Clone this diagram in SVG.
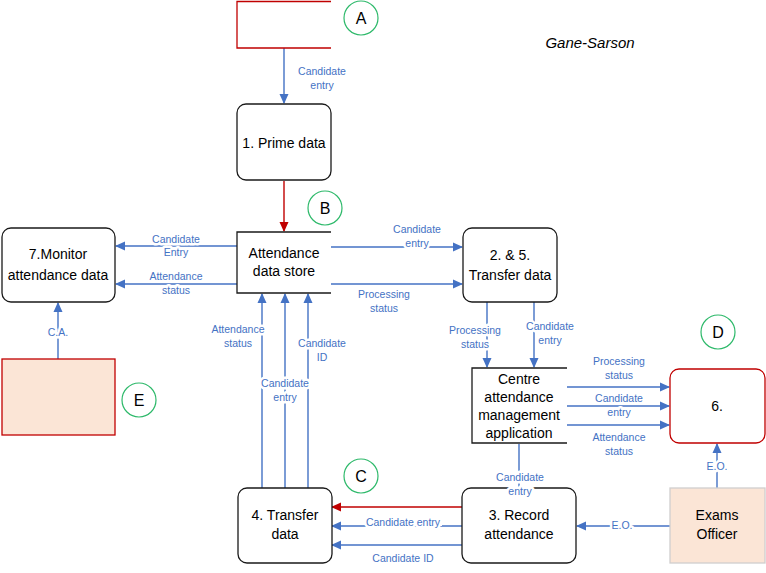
<svg xmlns="http://www.w3.org/2000/svg" width="766" height="573" viewBox="0 0 766 573">
<defs>
<marker id="ab" markerWidth="10" markerHeight="10" refX="9" refY="5" orient="auto" markerUnits="userSpaceOnUse"><path d="M0,0.5 L10,5 L0,9.5 z" fill="#4472C4"/></marker>
<marker id="ar" markerWidth="10" markerHeight="10" refX="9" refY="5" orient="auto" markerUnits="userSpaceOnUse"><path d="M0,0.5 L10,5 L0,9.5 z" fill="#C00000"/></marker>
</defs>
<style>
.n{fill:#fff;stroke:#1a1a1a;stroke-width:1.3}
.t{font-family:"Liberation Sans",Arial,sans-serif;font-size:14px;fill:#000;text-anchor:middle}
.l{font-family:"Liberation Sans",Arial,sans-serif;font-size:10.5px;fill:#4472C4;text-anchor:middle;stroke:#fff;stroke-width:5;paint-order:stroke;stroke-linejoin:round}
.c{fill:#fff;stroke:#2DB96A;stroke-width:1.2}
.ct{font-family:"Liberation Sans",Arial,sans-serif;font-size:16px;fill:#000;text-anchor:middle}
.e{fill:none;stroke:#4472C4;stroke-width:1.4;marker-end:url(#ab)}
.r{fill:none;stroke:#C00000;stroke-width:1.4;marker-end:url(#ar)}
</style>
<text x="590" y="48" font-family="Liberation Sans,Arial,sans-serif" font-size="15" font-style="italic" text-anchor="middle">Gane-Sarson</text>
<g id="connectors">
<line class="e" x1="284" y1="48" x2="284" y2="103"/>
<line class="r" x1="284" y1="181" x2="284" y2="231"/>
<line class="e" x1="237" y1="246" x2="116" y2="246"/>
<line class="e" x1="237" y1="284" x2="116" y2="284"/>
<line class="e" x1="331" y1="247" x2="462" y2="247"/>
<line class="e" x1="331" y1="284" x2="462" y2="284"/>
<line class="e" x1="487" y1="302" x2="487" y2="367"/>
<line class="e" x1="534" y1="302" x2="534" y2="367"/>
<line class="e" x1="567" y1="387" x2="669" y2="387"/>
<line class="e" x1="567" y1="406" x2="669" y2="406"/>
<line class="e" x1="567" y1="425" x2="669" y2="425"/>
<line class="e" x1="717" y1="488" x2="717" y2="444"/>
<line class="e" x1="670" y1="526" x2="577" y2="526"/>
<line x1="519" y1="444" x2="519" y2="488" stroke="#4472C4" stroke-width="1.4"/>
<line class="r" x1="462" y1="507" x2="332" y2="507"/>
<line class="e" x1="462" y1="526" x2="332" y2="526"/>
<line class="e" x1="462" y1="545" x2="332" y2="545"/>
<line class="e" x1="262" y1="488" x2="262" y2="294"/>
<line class="e" x1="285" y1="488" x2="285" y2="294"/>
<line class="e" x1="308" y1="488" x2="308" y2="294"/>
<line class="e" x1="58" y1="359" x2="58" y2="303"/>
</g>
<g id="nodeA">
<path d="M331,1.5 H237 V48 H331" fill="#fff" stroke="#C00000" stroke-width="1.3"/>
</g>
<g id="circleA"><circle class="c" cx="361" cy="18" r="17"/><text class="ct" x="361" y="24">A</text></g>
<g id="node1"><rect class="n" x="237" y="104" width="94" height="76" rx="9"/><text class="t" x="284" y="148">1. Prime data</text></g>
<g id="circleB"><circle class="c" cx="325" cy="208" r="17"/><text class="ct" x="325" y="214">B</text></g>
<g id="store"><path d="M331,232 H237 V293 H331" fill="#fff" stroke="#1a1a1a" stroke-width="1.3"/><text class="t" x="284" y="258">Attendance</text><text class="t" x="284" y="276">data store</text></g>
<g id="node7"><rect class="n" x="2" y="228" width="113" height="74" rx="9"/><text class="t" x="58" y="259">7.Monitor</text><text class="t" x="58" y="280">attendance data</text></g>
<g id="node25"><rect class="n" x="463" y="228" width="94" height="74" rx="9"/><text class="t" x="510" y="260">2. &amp; 5.</text><text class="t" x="510" y="280">Transfer data</text></g>
<g id="centre"><path d="M567,368 H472 V443 H567" fill="#fff" stroke="#1a1a1a" stroke-width="1.3"/><text class="t" x="519" y="384">Centre</text><text class="t" x="519" y="402">attendance</text><text class="t" x="519" y="420">management</text><text class="t" x="519" y="438">application</text></g>
<g id="circleD"><circle class="c" cx="718" cy="332" r="17"/><text class="ct" x="718" y="338">D</text></g>
<g id="node6"><rect x="670" y="369" width="95" height="74" rx="9" fill="#fff" stroke="#C00000" stroke-width="1.3"/><text class="t" x="717" y="411">6.</text></g>
<g id="exams"><rect x="670" y="488" width="95" height="75" fill="#FBE5D6" stroke="#D0CECE" stroke-width="1.3"/><text class="t" x="717" y="520">Exams</text><text class="t" x="717" y="539">Officer</text></g>
<g id="node3"><rect class="n" x="462" y="488" width="114" height="75" rx="9"/><text class="t" x="519" y="520">3. Record</text><text class="t" x="519" y="539">attendance</text></g>
<g id="circleC"><circle class="c" cx="361" cy="476" r="17"/><text class="ct" x="361" y="482">C</text></g>
<g id="node4"><rect class="n" x="238" y="488" width="94" height="75" rx="9"/><text class="t" x="285" y="520">4. Transfer</text><text class="t" x="285" y="539">data</text></g>
<g id="nodeE"><rect x="2" y="359" width="113" height="76" fill="#FBE5D6" stroke="#C00000" stroke-width="1.3"/></g>
<g id="circleE"><circle class="c" cx="139" cy="400" r="17"/><text class="ct" x="139" y="406">E</text></g>
<g id="connector-labels">
<text class="l" x="322" y="75">Candidate</text><text class="l" x="322" y="89">entry</text>
<text class="l" x="176" y="243">Candidate</text><text class="l" x="176" y="256">Entry</text>
<text class="l" x="176" y="280">Attendance</text><text class="l" x="176" y="294">status</text>
<text class="l" x="417" y="233">Candidate</text><text class="l" x="417" y="247">entry</text>
<text class="l" x="384" y="298">Processing</text><text class="l" x="384" y="312">status</text>
<text class="l" x="475" y="334">Processing</text><text class="l" x="475" y="348">status</text>
<text class="l" x="550" y="330">Candidate</text><text class="l" x="550" y="344">entry</text>
<text class="l" x="619" y="365">Processing</text><text class="l" x="619" y="379">status</text>
<text class="l" x="619" y="402">Candidate</text><text class="l" x="619" y="416">entry</text>
<text class="l" x="619" y="441">Attendance</text><text class="l" x="619" y="455">status</text>
<text class="l" x="717" y="470">E.O.</text>
<text class="l" x="622" y="529">E.O.</text>
<text class="l" x="520" y="481">Candidate</text><text class="l" x="520" y="495">entry</text>
<rect x="366" y="517" width="76" height="9" fill="#fff"/>
<text class="l" x="403" y="526">Candidate entry</text>
<text class="l" x="403" y="562">Candidate ID</text>
<text class="l" x="238" y="333">Attendance</text><text class="l" x="238" y="347">status</text>
<text class="l" x="285" y="387">Candidate</text><text class="l" x="285" y="401">entry</text>
<text class="l" x="322" y="347">Candidate</text><text class="l" x="322" y="361">ID</text>
<text class="l" x="58" y="336">C.A.</text>
</g>
</svg>
